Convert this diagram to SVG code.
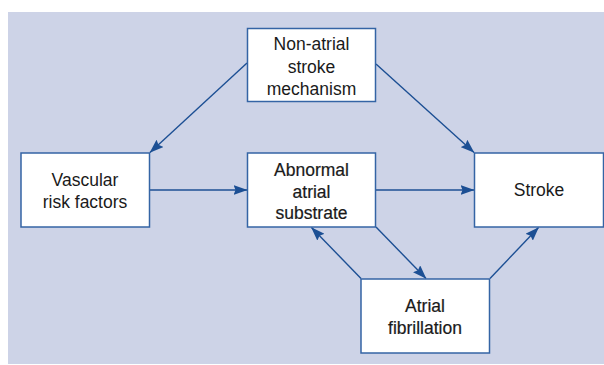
<svg xmlns="http://www.w3.org/2000/svg" width="604" height="365" viewBox="0 0 604 365">
<defs>
<style>
.bg{fill:#cdd3e7}
.box{fill:#ffffff;stroke:#3464a5;stroke-width:1.5}
.t{font-family:"Liberation Sans",Arial,sans-serif;font-size:17.5px;fill:#1a1a1a;text-anchor:middle}
.b{stroke:#1a1a1a;stroke-width:0.2}
.c{fill:none;stroke:#1c4f94;stroke-width:1.4}
</style>
<marker id="ah" markerUnits="userSpaceOnUse" markerWidth="14" markerHeight="10" refX="13.5" refY="5" orient="auto" viewBox="0 0 14 10">
<path d="M0,0 L14,5 L0,10 L2,5 z" fill="#1c4f94"/>
</marker>
</defs>
<rect class="bg" x="8" y="12" width="596" height="352"/>
<g id="connectors">
<line class="c" x1="247" y1="63" x2="150" y2="152.5" marker-end="url(#ah)"/>
<line class="c" x1="376" y1="64" x2="474" y2="152.5" marker-end="url(#ah)"/>
<line class="c" x1="150" y1="190" x2="247" y2="190" marker-end="url(#ah)"/>
<line class="c" x1="376" y1="190" x2="474" y2="190" marker-end="url(#ah)"/>
<line class="c" x1="361" y1="278.5" x2="311.5" y2="227.5" marker-end="url(#ah)"/>
<line class="c" x1="376" y1="227" x2="426" y2="278.5" marker-end="url(#ah)"/>
<line class="c" x1="490" y1="278.5" x2="538.5" y2="227.5" marker-end="url(#ah)"/>
</g>
<g id="node-nonatrial">
<rect class="box" x="247.5" y="28.5" width="128" height="73"/>
<text class="t" x="311.5" y="50">Non-atrial</text>
<text class="t" x="311.5" y="72.5">stroke</text>
<text class="t" x="311.5" y="94.5">mechanism</text>
</g>
<g id="node-vascular">
<rect class="box" x="21" y="153" width="128.5" height="74"/>
<text class="t" x="85" y="186">Vascular</text>
<text class="t" x="85" y="207.5">risk factors</text>
</g>
<g id="node-abnormal">
<rect class="box" x="247.5" y="153" width="128" height="74"/>
<text class="t b" x="311.5" y="175.5">Abnormal</text>
<text class="t b" x="311.5" y="197.5">atrial</text>
<text class="t b" x="311.5" y="219">substrate</text>
</g>
<g id="node-stroke">
<rect class="box" x="474.5" y="153" width="129" height="74"/>
<text class="t" x="539" y="196">Stroke</text>
</g>
<g id="node-af">
<rect class="box" x="361" y="279" width="128.5" height="74"/>
<text class="t b" x="425" y="312">Atrial</text>
<text class="t b" x="425" y="334">fibrillation</text>
</g>
</svg>
